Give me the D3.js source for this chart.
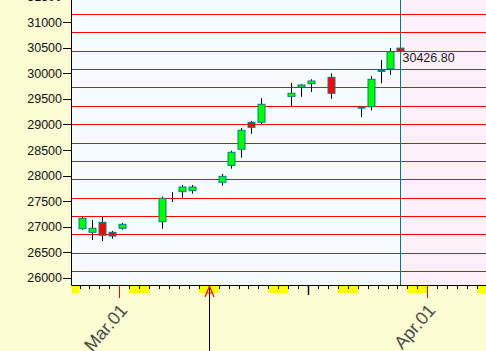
<!DOCTYPE html>
<html>
<head>
<meta charset="utf-8">
<script src="https://cdn.jsdelivr.net/npm/d3@7.9.0/dist/d3.min.js"></script>
<style>
  html, body { margin:0; padding:0; background:#fefcd2; }
  svg { display:block; font-family:"Liberation Sans", Arial, sans-serif; }
</style>
</head>
<body>
<script>
// ─── DATA ────────────────────────────────────────────────────────────────────
const dates  = ['2019-02-25','2019-02-26','2019-02-27','2019-02-28','2019-03-01',
                '2019-03-05','2019-03-06','2019-03-07','2019-03-08',
                '2019-03-11','2019-03-12','2019-03-13','2019-03-14','2019-03-15',
                '2019-03-18','2019-03-19','2019-03-20','2019-03-22',
                '2019-03-25','2019-03-26','2019-03-27','2019-03-28','2019-03-29'];
const opens  = [26959,26889,27085,26889,26967, 27096,27580,27684,27703,
                27868,28200,28514,29042,29042, 29551,29733,29798,29923,
                29340,29348,30060,30092,30495];
const highs  = [27188,27130,27188,26914,27071, 27586,27678,27815,27815,
                28030,28486,28931,29068,29518, 29812,29792,29884,30002,
                29350,29949,30262,30497,30500];
const lows   = [26940,26738,26718,26763,26940, 26959,27482,27566,27644,
                27801,28134,28349,28819,29009, 29361,29543,29635,29504,
                29146,29277,29806,29968,30420];
const closes = [27163,26967,26830,26816,27045, 27554,27580,27776,27776,
                27985,28455,28886,28944,29395, 29610,29773,29851,29610,
                29330,29884,30040,30424,30426.8];

// horizontal levels (red lines)
const levels = [31157,30804,30432,30080,29727,29355,29003,28631,
                28279,27926,27554,27202,26850,26478,26125];

const yTicks      = [26000,26500,27000,27500,28000,28500,29000,29500,30000,30500,31000,31500];
const monthTicks  = ['2019-03-01','2019-04-01'];
const markerDate  = '2019-03-10';
const longTick    = '2019-03-20';
const lastLabel   = '30426.80';

// ─── LAYOUT ──────────────────────────────────────────────────────────────────
const W = 486, H = 351;
const plotLeft = 72, plotBottom = 285;

const parse = d3.timeParse('%Y-%m-%d');
const candles = dates.map((d,i) => ({
  date: parse(d), o: opens[i], h: highs[i], l: lows[i], c: closes[i]
}));

const x = d3.scaleTime()
  .domain([parse('2019-03-01'), parse('2019-04-01')])
  .range([119.3, 427.3]);
const y = d3.scaleLinear()
  .domain([26000, 31000])
  .range([277.7, 22.3]);

const xMin = x.invert(plotLeft), xMax = x.invert(W);
const cx = d => x(d3.timeHour.offset(d, 7));

const svg = d3.select('body').append('svg')
  .attr('width', W).attr('height', H);

// backgrounds
svg.append('rect').attr('width', W).attr('height', H).attr('fill', '#fefcd2');
svg.append('rect')
  .attr('x', plotLeft).attr('y', 0)
  .attr('width', W - plotLeft).attr('height', plotBottom)
  .attr('fill', '#f5fcff');

const last = candles[candles.length - 1];
const splitX = Math.round(cx(last.date)) + 0.5;
svg.append('rect')
  .attr('x', splitX).attr('y', 0)
  .attr('width', W - splitX).attr('height', plotBottom)
  .attr('fill', '#fff0fb');

// level lines
svg.append('g').selectAll('line')
  .data(levels).enter().append('line')
    .attr('x1', plotLeft).attr('x2', W)
    .attr('y1', d => Math.round(y(d)) + 0.5)
    .attr('y2', d => Math.round(y(d)) + 0.5)
    .attr('stroke', '#ff0000').attr('stroke-width', 1);

// split line
svg.append('line')
  .attr('x1', splitX).attr('x2', splitX)
  .attr('y1', 0).attr('y2', plotBottom)
  .attr('stroke', '#007b7b').attr('stroke-width', 1);

// ─── CANDLES ─────────────────────────────────────────────────────────────────
const cg = svg.append('g');
candles.forEach(d => {
  const px = Math.round(cx(d.date)) + 0.5;
  cg.append('line')
    .attr('x1', px).attr('x2', px)
    .attr('y1', y(d.h)).attr('y2', y(d.l))
    .attr('stroke', '#000').attr('stroke-width', 1);
  const top = y(Math.max(d.o, d.c)), bot = y(Math.min(d.o, d.c));
  if (bot - top < 0.3) return;
  cg.append('rect')
    .attr('x', px - 3.5).attr('width', 7)
    .attr('y', top).attr('height', Math.max(1, bot - top))
    .attr('fill', d.c >= d.o ? '#00ff00' : '#ff0000')
    .attr('stroke', '#008080').attr('stroke-width', 1);
});

// last price label
svg.append('text')
  .attr('x', splitX + 2).attr('y', y(last.c) + 10)
  .attr('font-size', '12.5px').attr('fill', '#1a1a1a')
  .text(lastLabel);

// ─── AXES ────────────────────────────────────────────────────────────────────
// weekend bands
const days = d3.timeDay.range(d3.timeDay.offset(d3.timeDay.floor(xMin), -1), xMax);
svg.append('g').selectAll('rect')
  .data(days.filter(d => d.getDay() === 6)).enter().append('rect')
    .attr('x', d => Math.max(plotLeft, x(d)))
    .attr('width', d => x(d3.timeDay.offset(d, 2)) - Math.max(plotLeft, x(d)))
    .attr('y', plotBottom).attr('height', 8)
    .attr('fill', '#ffff00');

const monthSet = new Set(monthTicks);
const fmtKey = d3.timeFormat('%Y-%m-%d');
svg.append('g').selectAll('line')
  .data(days.filter(d => x(d) > plotLeft)).enter().append('line')
    .attr('x1', d => Math.round(x(d)) + 0.5)
    .attr('x2', d => Math.round(x(d)) + 0.5)
    .attr('y1', plotBottom)
    .attr('y2', d => monthSet.has(fmtKey(d)) ? plotBottom + 13 : fmtKey(d) === longTick ? plotBottom + 10 : plotBottom + 4)
    .attr('stroke', d => monthSet.has(fmtKey(d)) ? '#ff0000' : '#000')
    .attr('stroke-width', d => fmtKey(d) === longTick ? 1.5 : 1);

// month labels
const fmtMonth = d3.timeFormat('%b.%d');
svg.append('g').selectAll('text')
  .data(monthTicks.map(parse)).enter().append('text')
    .attr('transform', d => `translate(${x(d) + 9},${plotBottom + 26}) rotate(-49)`)
    .attr('text-anchor', 'end')
    .attr('font-size', '18px')
    .attr('fill', '#4b4b4b')
    .text(fmtMonth);

// marker line + arrow
const mx = Math.round(x(parse(markerDate))) + 0.5;
svg.append('line')
  .attr('x1', mx).attr('x2', mx).attr('y1', plotBottom).attr('y2', H)
  .attr('stroke', '#000').attr('stroke-width', 1);
svg.append('path')
  .attr('d', `M${mx-4.5},${plotBottom+12} L${mx},${plotBottom+1} L${mx+4.5},${plotBottom+12}
              M${mx-2.5},${plotBottom+8} L${mx+2.5},${plotBottom+8}`)
  .attr('fill', 'none').attr('stroke', '#ff0000').attr('stroke-width', 1.2);

// axis lines
svg.append('line')
  .attr('x1', plotLeft - 0.5).attr('x2', plotLeft - 0.5)
  .attr('y1', 0).attr('y2', plotBottom + 0.5)
  .attr('stroke', '#000');
svg.append('line')
  .attr('x1', plotLeft - 0.5).attr('x2', W)
  .attr('y1', plotBottom + 0.5).attr('y2', plotBottom + 0.5)
  .attr('stroke', '#000');

// y ticks
const yt = svg.append('g');
yt.selectAll('line')
  .data(yTicks).enter().append('line')
    .attr('x1', plotLeft - 9).attr('x2', plotLeft - 0.5)
    .attr('y1', d => Math.round(y(d)) + 0.5)
    .attr('y2', d => Math.round(y(d)) + 0.5)
    .attr('stroke', '#000').attr('stroke-width', 1);
yt.selectAll('text')
  .data(yTicks).enter().append('text')
    .attr('x', plotLeft - 10).attr('y', d => y(d))
    .attr('dy', '0.36em')
    .attr('text-anchor', 'end')
    .attr('font-size', '12.5px')
    .attr('fill', '#111')
    .text(d => d);
</script>
</body>
</html>
